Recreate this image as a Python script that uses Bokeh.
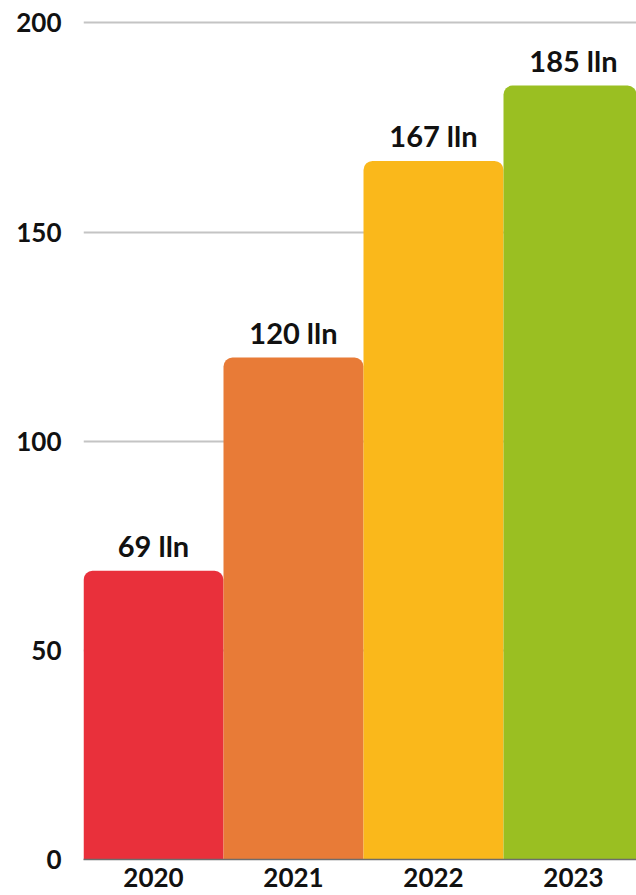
from bokeh.plotting import figure
from bokeh.models import Range1d, FixedTicker, ColumnDataSource
from bokeh.core.properties import value
from bokeh.embed import file_html
from bokeh.resources import INLINE

years = ["2020", "2021", "2022", "2023"]
amounts = [69, 120, 167, 185]
bar_colors = ["#E9303B", "#E87B37", "#FAB81B", "#9ABF22"]
y_ticks = [0, 50, 100, 150, 200]

xs = [i + 0.5 for i in range(len(years))]
src = ColumnDataSource(dict(
    x=xs, top=amounts, color=bar_colors,
    label=[f"{v} lln" for v in amounts],
))

W, H = 636, 895
p = figure(width=W, height=H,
           x_range=Range1d(0, (W - 83) / 140), y_range=Range1d(0, 202),
           output_backend="svg", toolbar_location=None,
           min_border_left=83, min_border_right=0,
           min_border_top=14, min_border_bottom=36)
p.outline_line_color = None
p.background_fill_color = "white"

p.vbar(x="x", top="top", bottom=0, width=1, fill_color="color",
       line_color=None, source=src, border_radius=(9, 9, 0, 0))

p.text(x="x", y="top", text="label", source=src,
       text_align="center", text_baseline="alphabetic", y_offset=-25,
       text_font=value("Lato"), text_font_style="bold",
       text_font_size="29px", text_color="#111111")

p.xgrid.visible = False
p.ygrid.grid_line_color = "#c4c4c4"
p.ygrid.grid_line_width = 2
p.ygrid.ticker = FixedTicker(ticks=y_ticks)

p.yaxis.ticker = FixedTicker(ticks=y_ticks)
p.yaxis.axis_line_color = None
p.yaxis.major_tick_line_color = None
p.yaxis.minor_tick_line_color = None
p.yaxis.major_tick_out = 0
p.yaxis.major_label_standoff = 22
p.yaxis.major_label_text_font = "Lato"
p.yaxis.major_label_text_font_style = "bold"
p.yaxis.major_label_text_font_size = "26px"
p.yaxis.major_label_text_color = "#111111"

p.xaxis.ticker = FixedTicker(ticks=xs)
p.xaxis.major_label_overrides = {x: y for x, y in zip(xs, years)}
p.xaxis.axis_line_color = "#6d6d6d"
p.xaxis.axis_line_width = 1.5
p.xaxis.major_tick_line_color = None
p.xaxis.minor_tick_line_color = None
p.xaxis.major_tick_out = 0
p.xaxis.major_label_standoff = 8
p.xaxis.major_label_text_font = "Lato"
p.xaxis.major_label_text_font_style = "bold"
p.xaxis.major_label_text_font_size = "26px"
p.xaxis.major_label_text_color = "#111111"

open("out.html", "w").write(file_html(p, INLINE))
